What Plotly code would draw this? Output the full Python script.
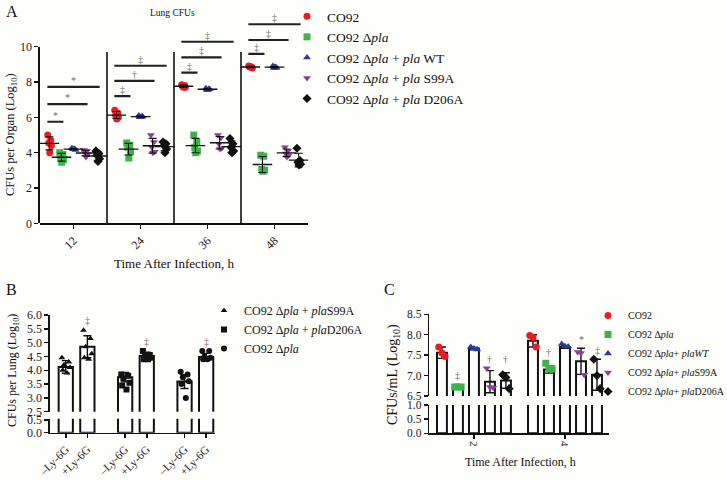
import numpy as np
import plotly.graph_objects as go

# ---------------- Panel A data ----------------
A_TIMES = ["12", "24", "36", "48"]
A_LABELS = ["CO92", "CO92 Δ<i>pla</i>", "CO92 Δ<i>pla</i> + <i>pla</i> WT",
            "CO92 Δ<i>pla</i> + <i>pla</i> S99A", "CO92 Δ<i>pla</i> + <i>pla</i> D206A"]
A_CO92 = [[5.0, 4.7, 4.55, 4.4, 4.0], [6.4, 6.25, 6.1, 6.0, 5.9],
          [7.85, 7.8, 7.75, 7.7, 7.7], [8.9, 8.85, 8.85, 8.8, 8.85]]
A_DPLA = [[4.0, 3.9, 3.75, 3.6, 3.45], [4.55, 4.4, 4.3, 4.05, 3.7],
          [5.0, 4.6, 4.3, 4.1, 4.0], [3.85, 3.8, 3.05, 3.0, 2.95]]
A_WT = [[4.25, 4.2, 4.2, 4.15, 4.2], [6.1, 6.05, 6.0, 6.05, 6.0],
        [7.65, 7.6, 7.55, 7.6, 7.55], [8.9, 8.85, 8.8, 8.8, 8.85]]
A_S99A = [[4.15, 4.1, 4.0, 3.9, 3.75], [5.0, 4.6, 4.3, 4.05, 4.0],
          [5.0, 4.85, 4.5, 4.25, 4.2], [4.3, 4.1, 3.95, 3.85, 3.75]]
A_D206A = [[4.1, 3.95, 3.85, 3.65, 3.5], [4.6, 4.5, 4.4, 4.2, 4.0],
           [4.8, 4.5, 4.3, 4.1, 4.0], [4.25, 3.55, 3.45, 3.35, 3.3]]
A_SERIES = [A_CO92, A_DPLA, A_WT, A_S99A, A_D206A]
# significance brackets: (time index, compared series index, symbol, bracket height)
A_SIG = [(0, 1, "*", 5.75), (0, 3, "*", 6.75), (0, 4, "*", 7.73),
         (1, 1, "‡", 7.2), (1, 3, "†", 8.07), (1, 4, "‡", 8.92),
         (2, 1, "‡", 8.53), (2, 3, "‡", 9.4), (2, 4, "‡", 10.28),
         (3, 1, "‡", 9.59), (3, 3, "‡", 10.38), (3, 4, "‡", 11.27)]

# ---------------- Panel B data ----------------
B_TICKS = ["–Ly-6G", "+Ly-6G", "–Ly-6G", "+Ly-6G", "–Ly-6G", "+Ly-6G"]
B_LABELS = ["CO92 Δ<i>pla</i> + <i>pla</i>S99A", "CO92 Δ<i>pla</i> + <i>pla</i>D206A", "CO92 Δ<i>pla</i>"]
B_BARS = [4.12, 4.85, 3.75, 4.52, 3.59, 4.48]
B_SD = [0.23, 0.4, 0.17, 0.13, 0.25, 0.13]
B_POINTS = [
    [[4.45, 4.3, 4.2, 4.1, 4.0, 3.9], [5.45, 5.15, 4.85, 4.6, 4.45, 4.4]],
    [[3.85, 3.8, 3.7, 3.55, 3.45, 3.3], [4.7, 4.55, 4.5, 4.45, 4.4, 4.4]],
    [[3.95, 3.85, 3.75, 3.6, 3.5, 3.0], [4.7, 4.7, 4.5, 4.45, 4.4, 4.4]],
]
B_SIG = [("‡", 5.8), ("‡", 5.05), ("‡", 5.05)]

# ---------------- Panel C data ----------------
C_TIMES = ["2", "4"]
C_LABELS = ["CO92", "CO92 Δ<i>pla</i>", "CO92 Δ<i>pla</i>+ <i>pla</i><i>WT</i>",
            "CO92 Δ<i>pla</i>+ <i>pla</i>S99A", "CO92 Δ<i>pla</i>+ <i>pla</i>D206A"]
C_BARS = [[7.56, 7.85], [6.73, 7.15], [7.66, 7.7], [6.85, 7.35], [6.88, 7.02]]
C_SD = [[0.14, 0.15], [0.0, 0.09], [0.03, 0.03], [0.27, 0.32], [0.19, 0.38]]
C_POINTS = [
    [[7.7, 7.55, 7.47], [7.98, 7.93, 7.7]],
    [[6.72, 6.72, 6.72], [7.3, 7.17, 7.17]],
    [[7.7, 7.66, 7.64], [7.77, 7.72, 7.71]],
    [[7.18, 6.72, 6.70], [7.58, 7.55, 7.02]],
    [[7.02, 6.95, 6.68], [7.4, 7.0, 6.68]],
]
C_SIG = [(1, 0, "‡", 6.99), (3, 0, "†", 7.4), (4, 0, "†", 7.4),
         (1, 1, "†", 7.56), (3, 1, "*", 7.88), (4, 1, "‡", 7.62)]

# ---------------- styling ----------------
W, H = 727, 480
FONT = "Liberation Serif, Times New Roman, serif"
BG = "#fefefa"
COLORS = ["#ec1c24", "#3cb44a", "#2e3a9c", "#8e3f98", "#111111"]
SYMS = ["circle", "square", "triangle-up", "triangle-down", "diamond"]
SIGC = "#6b6b6b"


def fx(px):
    return px / W


def fy(py):
    return 1 - py / H


fig = go.Figure()
ann = []
shapes = []

# ======== Panel A ========
A_OFF = [-0.36, -0.18, 0.0, 0.18, 0.36]
A_JIT = [-0.025, 0.02, -0.01, 0.03, 0.005]
for k, ser in enumerate(A_SERIES):
    xs, ys = [], []
    for t, vals in enumerate(ser):
        for j, v in enumerate(vals):
            xs.append(t + A_OFF[k] + A_JIT[j])
            ys.append(v)
    fig.add_trace(go.Scatter(x=xs, y=ys, mode="markers", name=A_LABELS[k],
                             marker=dict(symbol=SYMS[k], color=COLORS[k], size=7),
                             xaxis="x", yaxis="y", legend="legend"))
for k, ser in enumerate(A_SERIES):
    means = [float(np.mean(v)) for v in ser]
    sds = [float(np.std(v, ddof=1)) for v in ser]
    fig.add_trace(go.Scatter(x=[t + A_OFF[k] for t in range(len(ser))], y=means, mode="markers",
                             marker=dict(symbol="line-ew-open", size=14, color="#111",
                                         line=dict(color="#111", width=1.3)),
                             error_y=dict(type="data", array=sds, visible=True, color="#111", thickness=1.1, width=4),
                             showlegend=False, hoverinfo="skip", xaxis="x", yaxis="y"))
# empty trace that holds the visible y axis of panel A
fig.add_trace(go.Scatter(x=[], y=[], xaxis="x", yaxis="y5", showlegend=False))

for t in range(len(A_TIMES) - 1):
    shapes.append(dict(type="line", xref="x", yref="y", x0=t + 0.5, x1=t + 0.5, y0=0, y1=9.7,
                       line=dict(color="#111", width=1.6)))
for (t, k, sym, yv) in A_SIG:
    x0 = t + A_OFF[0] - 0.03
    x1 = t + A_OFF[k] + 0.03
    shapes.append(dict(type="line", xref="x", yref="y", x0=x0, x1=x1, y0=yv, y1=yv,
                       line=dict(color="#222", width=2.2)))
    ann.append(dict(x=(x0 + x1) / 2, y=yv, xref="x", yref="y", text=sym, showarrow=False,
                    yanchor="bottom", yshift=-1, font=dict(family=FONT, size=10, color=SIGC)))

# ======== Panel B ========
B_X = [0, 1, 2.75, 3.75, 5.5, 6.5]
B_SYM = ["triangle-up", "square", "circle"]
B_JIT = [-0.18, 0.14, -0.08, 0.2, -0.14, 0.06]
for ya in ["y3", "y4"]:
    fig.add_trace(go.Bar(x=B_X, y=B_BARS, width=0.66, marker=dict(color="white", line=dict(color="#111", width=2)),
                         error_y=dict(type="data", array=B_SD, visible=(ya == "y3"), color="#111", thickness=1.4, width=4),
                         showlegend=False, hoverinfo="skip", xaxis="x3", yaxis=ya))
for g in range(3):
    xs, ys = [], []
    for h in range(2):
        for j, v in enumerate(B_POINTS[g][h]):
            xs.append(B_X[2 * g + h] + B_JIT[j])
            ys.append(v)
    fig.add_trace(go.Scatter(x=xs, y=ys, mode="markers", name=B_LABELS[g],
                             marker=dict(symbol=B_SYM[g], color="#111", size=6),
                             xaxis="x3", yaxis="y3", legend="legend2"))
for g, (sym, yv) in enumerate(B_SIG):
    ann.append(dict(x=B_X[2 * g + 1], y=yv, xref="x3", yref="y3", text=sym, showarrow=False,
                    yanchor="middle", font=dict(family=FONT, size=10, color=SIGC)))

# ======== Panel C ========
C_GX = [0, 5.69]
C_OFF = [-2, -1, 0, 1, 2]
C_JIT = [-0.2, 0.0, 0.2]
for k in range(5):
    xs = [C_GX[t] + C_OFF[k] for t in range(2)]
    for ya in ["y6", "y7"]:
        fig.add_trace(go.Bar(x=xs, y=C_BARS[k], width=0.62,
                             marker=dict(color="white", line=dict(color="#111", width=2)),
                             error_y=dict(type="data", array=C_SD[k], visible=(ya == "y6"), color="#111",
                                          thickness=1.4, width=4),
                             showlegend=False, hoverinfo="skip", xaxis="x6", yaxis=ya))
for k in range(5):
    xs, ys = [], []
    for t in range(2):
        for j, v in enumerate(C_POINTS[k][t]):
            xs.append(C_GX[t] + C_OFF[k] + C_JIT[j])
            ys.append(v)
    fig.add_trace(go.Scatter(x=xs, y=ys, mode="markers", name=C_LABELS[k],
                             marker=dict(symbol=SYMS[k], color=COLORS[k], size=7),
                             xaxis="x6", yaxis="y6", legend="legend3"))
for (k, t, sym, yv) in C_SIG:
    ann.append(dict(x=C_GX[t] + C_OFF[k], y=yv, xref="x6", yref="y6", text=sym, showarrow=False,
                    yanchor="middle", font=dict(family=FONT, size=10, color=SIGC)))


# ======== text annotations ========
def txt(px, py, text, size, angle=0, xanchor="center", color="#111"):
    ann.append(dict(x=fx(px), y=fy(py), xref="paper", yref="paper", text=text, showarrow=False,
                    textangle=angle, xanchor=xanchor, yanchor="middle",
                    font=dict(family=FONT, size=size, color=color)))


txt(4, 11, "A", 16, xanchor="left")
txt(4, 289, "B", 16, xanchor="left")
txt(382, 289, "C", 16, xanchor="left")
txt(172, 13, "Lung CFUs", 9.5)
txt(11, 135, "CFUs per Organ (Log<sub>10</sub>)", 12.5, angle=-90)
txt(174, 263, "Time After Infection, h", 13)
txt(13, 371, "CFUs per Lung (Log<sub>10</sub>)", 12, angle=-90)
txt(393, 375, "CFUs/mL (Log<sub>10</sub>)", 14, angle=-90)
txt(520, 462, "Time After Infection, h", 12)

axcommon = dict(showgrid=False, zeroline=False, linecolor="#111", linewidth=1.6, ticks="outside",
                ticklen=4, tickwidth=1.5, tickcolor="#111", automargin=False,
                tickfont=dict(family=FONT, size=12, color="#222"))

A_YTOP = 11.6
fig.update_layout(
    template="none",
    width=W, height=H, margin=dict(l=0, r=0, t=0, b=0, pad=0, autoexpand=False),
    paper_bgcolor=BG, plot_bgcolor="rgba(0,0,0,0)",
    font=dict(family=FONT, color="#111"),
    shapes=shapes, annotations=ann, hovermode=False,
    xaxis=dict(axcommon, domain=[fx(40), fx(308)], range=[-0.5, 3.5], tickvals=[0, 1, 2, 3],
               ticktext=A_TIMES, tickangle=-45, showline=True, anchor="y"),
    yaxis=dict(domain=[fy(223.3), fy(223.3 - A_YTOP * 17.66)], range=[0, A_YTOP], visible=False,
               anchor="x", automargin=False),
    yaxis5=dict(axcommon, domain=[fy(223.3), fy(223.3 - 10 * 17.66)], range=[0, 10],
                tickvals=[0, 2, 4, 6, 8, 10], showline=True, anchor="x"),
    xaxis3=dict(axcommon, domain=[fx(50), fx(215)], range=[-0.73, 6.91], tickvals=B_X, ticktext=B_TICKS,
                tickangle=-45, showline=True, anchor="y4", tickfont=dict(family=FONT, size=11.5, color="#222")),
    yaxis3=dict(axcommon, domain=[fy(411.7), fy(315)], range=[2.5, 6.0], tickvals=[2.5, 3, 3.5, 4, 4.5, 5, 5.5, 6],
                tickformat=".1f", showline=True, anchor="x3"),
    yaxis4=dict(axcommon, domain=[fy(432.7), fy(418.7)], range=[0, 0.55], tickvals=[0, 0.5],
                tickformat=".1f", showline=True, anchor="x3"),
    xaxis6=dict(axcommon, domain=[fx(429.3), fx(609)], range=[-2.79, 8.44], tickvals=C_GX, ticktext=C_TIMES,
                tickangle=90, showline=True, anchor="y7", tickfont=dict(family=FONT, size=11, color="#222")),
    yaxis6=dict(axcommon, domain=[fy(396), fy(314.3)], range=[6.5, 8.5], tickvals=[6.5, 7, 7.5, 8, 8.5],
                tickformat=".1f", showline=True, anchor="x6", tickfont=dict(family=FONT, size=11.5, color="#222")),
    yaxis7=dict(axcommon, domain=[fy(433.3), fy(405)], range=[0, 1.0], tickvals=[0, 0.5, 1.0],
                tickformat=".1f", showline=True, anchor="x6", tickfont=dict(family=FONT, size=11.5, color="#222")),
    legend=dict(x=fx(287), y=fy(1), xanchor="left", yanchor="top", bgcolor="rgba(0,0,0,0)",
                font=dict(family=FONT, size=13.5, color="#111")),
    legend2=dict(x=fx(204), y=fy(296), xanchor="left", yanchor="top", bgcolor="rgba(0,0,0,0)",
                 font=dict(family=FONT, size=12, color="#111")),
    legend3=dict(x=fx(588), y=fy(301), xanchor="left", yanchor="top", bgcolor="rgba(0,0,0,0)",
                 font=dict(family=FONT, size=10, color="#111")),
    bargap=0,
)

fig.write_html("out.html", config={"displayModeBar": False, "staticPlot": True},
               post_script="document.body.style.margin='0px';")
